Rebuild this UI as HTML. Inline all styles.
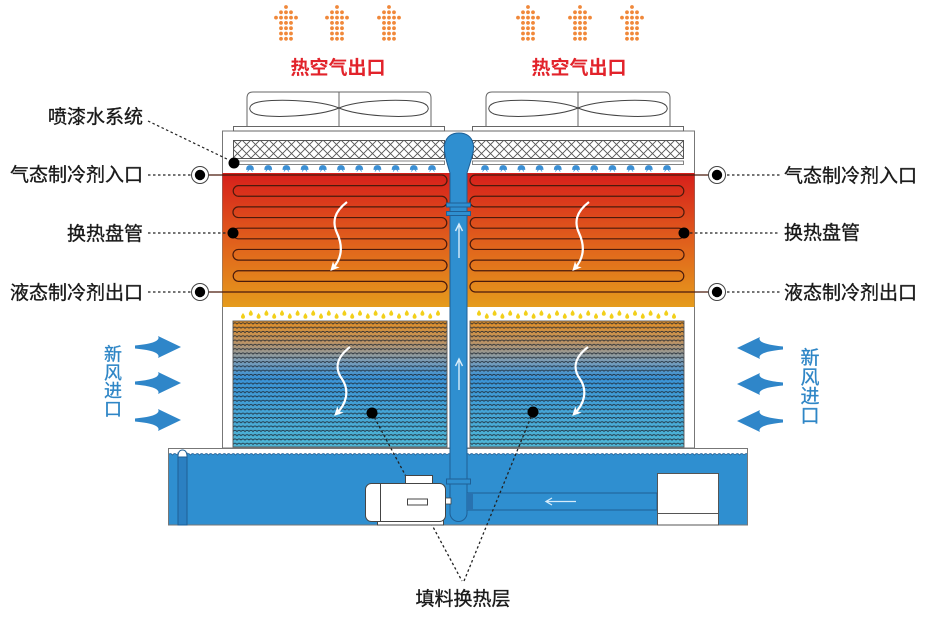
<!DOCTYPE html>
<html><head><meta charset="utf-8"><style>
html,body{margin:0;padding:0;background:#fff;}
svg{display:block;}
text{font-family:"Liberation Sans","Noto Sans CJK SC",sans-serif;}
</style></head><body>
<svg width="949" height="618" viewBox="0 0 949 618" xmlns="http://www.w3.org/2000/svg">
<defs>
<linearGradient id="coilg" x1="0" y1="173" x2="0" y2="307" gradientUnits="userSpaceOnUse">
<stop offset="0" stop-color="#d61f1b"/>
<stop offset="0.5" stop-color="#e05e1c"/>
<stop offset="1" stop-color="#e59b1c"/>
</linearGradient>
<linearGradient id="fillg" x1="0" y1="321" x2="0" y2="447" gradientUnits="userSpaceOnUse">
<stop offset="0" stop-color="#e38f26"/>
<stop offset="0.17" stop-color="#bb9366"/>
<stop offset="0.32" stop-color="#7a9db8"/>
<stop offset="0.45" stop-color="#3a92d6"/>
<stop offset="1" stop-color="#4fb7d6"/>
</linearGradient>
<pattern id="wav" x="233" y="321" width="8" height="4.3" patternUnits="userSpaceOnUse">
<path d="M0,3 Q2,0.6 4,3 Q6,0.6 8,3" fill="none" stroke="#1c2630" stroke-width="0.95" opacity="0.85"/>
</pattern>
<pattern id="mesh" x="233" y="140" width="9" height="9" patternUnits="userSpaceOnUse">
<path d="M0,0 L9,9 M9,0 L0,9" stroke="#555" stroke-width="0.9"/>
</pattern>
<pattern id="bwave" x="168" y="450" width="9" height="8" patternUnits="userSpaceOnUse">
<path d="M0,5 Q2.25,2 4.5,5 Q6.75,2 9,5 L9,8 L0,8 Z" fill="#2f8fd0"/>
<path d="M0,5 Q2.25,2 4.5,5 Q6.75,2 9,5" fill="none" stroke="#245f93" stroke-width="0.8"/>
</pattern>
<marker id="ah" markerWidth="9" markerHeight="9" refX="5" refY="4.5" orient="auto" markerUnits="userSpaceOnUse">
<path d="M0,0 L9,4.5 L0,9 L2.5,4.5Z" fill="#fff"/>
</marker>
<g id="ha" fill="#f0883a">
<circle cx="0" cy="7" r="1.9"/>
<circle cx="-5" cy="12.3" r="1.9"/><circle cx="0" cy="12.3" r="1.9"/><circle cx="5" cy="12.3" r="1.9"/>
<circle cx="-10" cy="17.6" r="1.9"/><circle cx="-5" cy="17.6" r="1.9"/><circle cx="0" cy="17.6" r="1.9"/><circle cx="5" cy="17.6" r="1.9"/><circle cx="10" cy="17.6" r="1.9"/>
<circle cx="-5" cy="22.9" r="1.9"/><circle cx="0" cy="22.9" r="1.9"/><circle cx="5" cy="22.9" r="1.9"/>
<circle cx="-5" cy="28.2" r="1.9"/><circle cx="0" cy="28.2" r="1.9"/><circle cx="5" cy="28.2" r="1.9"/>
<circle cx="-5" cy="33.5" r="1.9"/><circle cx="0" cy="33.5" r="1.9"/><circle cx="5" cy="33.5" r="1.9"/>
<circle cx="-5" cy="38.8" r="1.9"/><circle cx="0" cy="38.8" r="1.9"/><circle cx="5" cy="38.8" r="1.9"/>
</g>
<path id="nz" d="M-3.5,4.5 Q-3.5,0.5 0,0.5 Q3.5,0.5 3.5,4.5 Z M-1,4.5 L-2.5,6.5 M1,4.5 L2.5,6.5" fill="#3b8fd4" stroke="#3b8fd4" stroke-width="0.8"/>
<path id="dr" d="M0,-3 C1,-1.5 2,-0.5 2,0.8 A2,2 0 0 1 -2,0.8 C-2,-0.5 -1,-1.5 0,-3Z" fill="#f2cf1a"/>
<g id="ringc"><circle r="8.5" fill="#fff" stroke="#444" stroke-width="1"/><circle r="5.2" fill="#000"/></g>

<g id="half">
  <path d="M247,127 L247,98 Q247,92 253,92 L425,92 Q431,92 431,98 L431,127" fill="#fff" stroke="#666" stroke-width="1"/>
  <line x1="339" y1="92" x2="339" y2="127" stroke="#666" stroke-width="1"/>
  <path d="M339,108 C320,100 270,98 255,103 C248,106 248,111 255,114 C270,119 320,116 339,108 Z" fill="none" stroke="#444" stroke-width="1"/>
  <path d="M339,108 C358,100 408,98 423,103 C430,106 430,111 423,114 C408,119 358,116 339,108 Z" fill="none" stroke="#444" stroke-width="1"/>
  <rect x="233.5" y="126.5" width="211" height="4.5" fill="#fff" stroke="#666" stroke-width="1"/>
  <rect x="233.5" y="140.5" width="211" height="18" fill="#fff"/>
  <rect x="233.5" y="140.5" width="211" height="18" fill="url(#mesh)" stroke="#555" stroke-width="1"/>
  <rect x="233.5" y="161" width="211" height="3.5" fill="#fff" stroke="#777" stroke-width="0.9"/>
  <use href="#nz" x="250" y="165"/><use href="#nz" x="268.2" y="165"/><use href="#nz" x="286.4" y="165"/><use href="#nz" x="304.6" y="165"/><use href="#nz" x="322.8" y="165"/><use href="#nz" x="341" y="165"/><use href="#nz" x="359.2" y="165"/><use href="#nz" x="377.4" y="165"/><use href="#nz" x="395.6" y="165"/><use href="#nz" x="413.8" y="165"/><use href="#nz" x="432" y="165"/>
  <rect x="222.5" y="173" width="230" height="134" fill="url(#coilg)"/>
  <path d="M208,175 L441.7,175 A5.32,5.32 0 0 1 441.7,185.64 L238.3,185.64 A5.32,5.32 0 0 0 238.3,196.27 L441.7,196.27 A5.32,5.32 0 0 1 441.7,206.91 L238.3,206.91 A5.32,5.32 0 0 0 238.3,217.55 L441.7,217.55 A5.32,5.32 0 0 1 441.7,228.18 L238.3,228.18 A5.32,5.32 0 0 0 238.3,238.82 L441.7,238.82 A5.32,5.32 0 0 1 441.7,249.45 L238.3,249.45 A5.32,5.32 0 0 0 238.3,260.09 L441.7,260.09 A5.32,5.32 0 0 1 441.7,270.73 L238.3,270.73 A5.32,5.32 0 0 0 238.3,281.36 L441.7,281.36 A5.32,5.32 0 0 1 441.7,292 L208,292" fill="none" stroke="#4a1a0c" stroke-width="1.2"/>
  <use href="#ringc" x="200" y="175"/>
  <use href="#ringc" x="200" y="292"/>
  <circle cx="233" cy="233" r="5.5" fill="#000"/>
  <use href="#dr" x="243" y="316"/><use href="#dr" x="250.8" y="313"/><use href="#dr" x="258.6" y="316"/><use href="#dr" x="266.4" y="313"/><use href="#dr" x="274.2" y="316"/><use href="#dr" x="282" y="313"/><use href="#dr" x="289.8" y="316"/><use href="#dr" x="297.6" y="313"/><use href="#dr" x="305.4" y="316"/><use href="#dr" x="313.2" y="313"/><use href="#dr" x="321" y="316"/><use href="#dr" x="328.8" y="313"/><use href="#dr" x="336.6" y="316"/><use href="#dr" x="344.4" y="313"/><use href="#dr" x="352.2" y="316"/><use href="#dr" x="360" y="313"/><use href="#dr" x="367.8" y="316"/><use href="#dr" x="375.6" y="313"/><use href="#dr" x="383.4" y="316"/><use href="#dr" x="391.2" y="313"/><use href="#dr" x="399" y="316"/><use href="#dr" x="406.8" y="313"/><use href="#dr" x="414.6" y="316"/><use href="#dr" x="422.4" y="313"/><use href="#dr" x="430.2" y="316"/><use href="#dr" x="438" y="313"/>
  <rect x="233" y="321" width="214" height="126" fill="url(#fillg)"/>
  <rect x="233" y="321" width="214" height="126" fill="url(#wav)" stroke="#555" stroke-width="0.9"/>
</g>
</defs>

<use href="#ha" x="286" y="0"/><use href="#ha" x="337" y="0"/><use href="#ha" x="389" y="0"/>
<use href="#ha" x="528" y="0"/><use href="#ha" x="580" y="0"/><use href="#ha" x="632" y="0"/>
<text x="338" y="74" font-size="19" font-weight="bold" fill="#e2232b" text-anchor="middle">热空气出口</text>
<text x="579" y="74" font-size="19" font-weight="bold" fill="#e2232b" text-anchor="middle">热空气出口</text>

<rect x="222.5" y="131" width="472" height="317" fill="#fff" stroke="#777" stroke-width="1"/>
<use href="#half"/>
<use href="#half" transform="translate(917,0) scale(-1,1)"/>

<rect x="168.5" y="448.5" width="579" height="76.5" fill="#fff" stroke="#777" stroke-width="1"/>
<rect x="169" y="450" width="578" height="8" fill="url(#bwave)"/>
<rect x="169" y="457.5" width="578" height="67" fill="#2f8fd0"/>
<rect x="178" y="453" width="9" height="72" fill="#2b80c2" stroke="#1f5f95" stroke-width="1"/>
<path d="M178,457 Q178,450 182.5,450 Q187,450 187,457 Z" fill="#fff" stroke="#1f5f95" stroke-width="1"/>

<g fill="none" stroke="#fff" stroke-width="2.2" marker-end="url(#ah)">
<path d="M347,202 C334,212 332,222 337,233 C343,246 342,258 333,268"/>
<path d="M589,202 C576,212 574,222 579,233 C585,246 584,258 575,268"/>
<path d="M350,347 C337,357 334,368 342,379 C350,391 346,404 337,413"/>
<path d="M588,347 C575,357 572,368 580,379 C588,391 584,404 575,413"/>
</g>

<path d="M450,173 C446,160 443,150 445,143 C447,136 452,133 459,133 C466,133 471,136 473,143 C475,150 471,160 467,173 L467,513 A8.5,8.5 0 0 1 450,513 Z" fill="#2f8fd0" stroke="#1f5f95" stroke-width="1"/>
<rect x="446.5" y="203" width="24" height="4" fill="#2f8fd0" stroke="#1f5f95" stroke-width="1"/>
<rect x="446.5" y="211.5" width="24" height="4" fill="#2f8fd0" stroke="#1f5f95" stroke-width="1"/>
<g stroke="#d6ecfa" stroke-width="1.4" fill="none">
<path d="M459,258 L459,225 M455.5,231 L459,224 L462.5,231"/>
<path d="M459,390 L459,360 M455.5,366 L459,359 L462.5,366"/>
</g>
<rect x="467" y="493" width="190" height="17" fill="#2f8fd0" stroke="#1f5f95" stroke-width="1"/>
<rect x="467" y="493" width="6" height="17" fill="#2872b0"/>
<rect x="446.5" y="479" width="24" height="5" fill="#2f8fd0" stroke="#1f5f95" stroke-width="1"/>
<path d="M576,501.5 L546,501.5 M552,498 L546,501.5 L552,505" stroke="#d6ecfa" stroke-width="1.3" fill="none"/>
<rect x="657.5" y="473.5" width="61" height="51.5" fill="#fff" stroke="#555" stroke-width="1"/>
<line x1="657.5" y1="513.5" x2="718.5" y2="513.5" stroke="#555" stroke-width="1"/>

<g stroke="#222" stroke-width="1.3" stroke-dasharray="2.5,2.5" fill="none">
<path d="M372,413 L462,581"/>
<path d="M533,412 L464,581"/>
</g>
<circle cx="372" cy="413" r="5.5" fill="#000"/>
<circle cx="533" cy="412" r="5.5" fill="#000"/>

<rect x="405.5" y="475.5" width="27" height="8" fill="#fff" stroke="#444" stroke-width="1"/>
<rect x="377.5" y="520.5" width="66" height="4.5" fill="#fff" stroke="#444" stroke-width="1"/>
<rect x="445" y="498" width="6" height="6" fill="#fff" stroke="#444" stroke-width="0.8"/>
<rect x="365.5" y="483.5" width="80" height="38" rx="6" fill="#fff" stroke="#444" stroke-width="1"/>
<line x1="380.5" y1="483.5" x2="380.5" y2="521.5" stroke="#444" stroke-width="1"/>
<rect x="407.5" y="499" width="20" height="6" fill="#fff" stroke="#444" stroke-width="1"/>

<g stroke="#222" stroke-width="1.2" stroke-dasharray="2.5,2.5" fill="none">
<path d="M148,121 L229,160"/>
<path d="M148,175 L191,175"/>
<path d="M148,233 L227,233"/>
<path d="M148,292 L191,292"/>
<path d="M727,175 L780,175"/>
<path d="M690,233 L780,233"/>
<path d="M727,292 L780,292"/>
</g>
<circle cx="234" cy="163" r="5.5" fill="#000"/>

<g fill="#2f86c9">
<path d="M181,347 L158,336 Q162,343 135,345.5 L135,348.5 Q162,351 158,358 Z"/>
<path d="M181,383 L158,372 Q162,379 135,381.5 L135,384.5 Q162,387 158,394 Z"/>
<path d="M181,420 L158,409 Q162,416 135,418.5 L135,421.5 Q162,424 158,431 Z"/>
<path d="M737,348 L760,337 Q756,344 783,346.5 L783,349.5 Q756,352 760,359 Z"/>
<path d="M737,384 L760,373 Q756,380 783,382.5 L783,385.5 Q756,388 760,395 Z"/>
<path d="M737,421 L760,410 Q756,417 783,419.5 L783,422.5 Q756,425 760,432 Z"/>
</g>
<g font-size="18" fill="#2f86c6" stroke="#2f86c6" stroke-width="0.3" text-anchor="middle">
<text x="113" y="360.6">新</text><text x="113" y="378.9">风</text><text x="113" y="397.1">进</text><text x="113" y="415.4">口</text>
</g>
<g font-size="19" fill="#2f86c6" stroke="#2f86c6" stroke-width="0.3" text-anchor="middle">
<text x="810" y="364">新</text><text x="810" y="383.4">风</text><text x="810" y="402.6">进</text><text x="810" y="421.9">口</text>
</g>

<g font-size="19" fill="#1a1a1a" stroke="#1a1a1a" stroke-width="0.35">
<text x="143" y="123" text-anchor="end">喷漆水系统</text>
<text x="143" y="181" text-anchor="end">气态制冷剂入口</text>
<text x="143" y="240" text-anchor="end">换热盘管</text>
<text x="143" y="299" text-anchor="end">液态制冷剂出口</text>
<text x="784" y="182">气态制冷剂入口</text>
<text x="784" y="239">换热盘管</text>
<text x="784" y="299">液态制冷剂出口</text>
<text x="463" y="605" text-anchor="middle">填料换热层</text>
</g>
</svg>
</body></html>
